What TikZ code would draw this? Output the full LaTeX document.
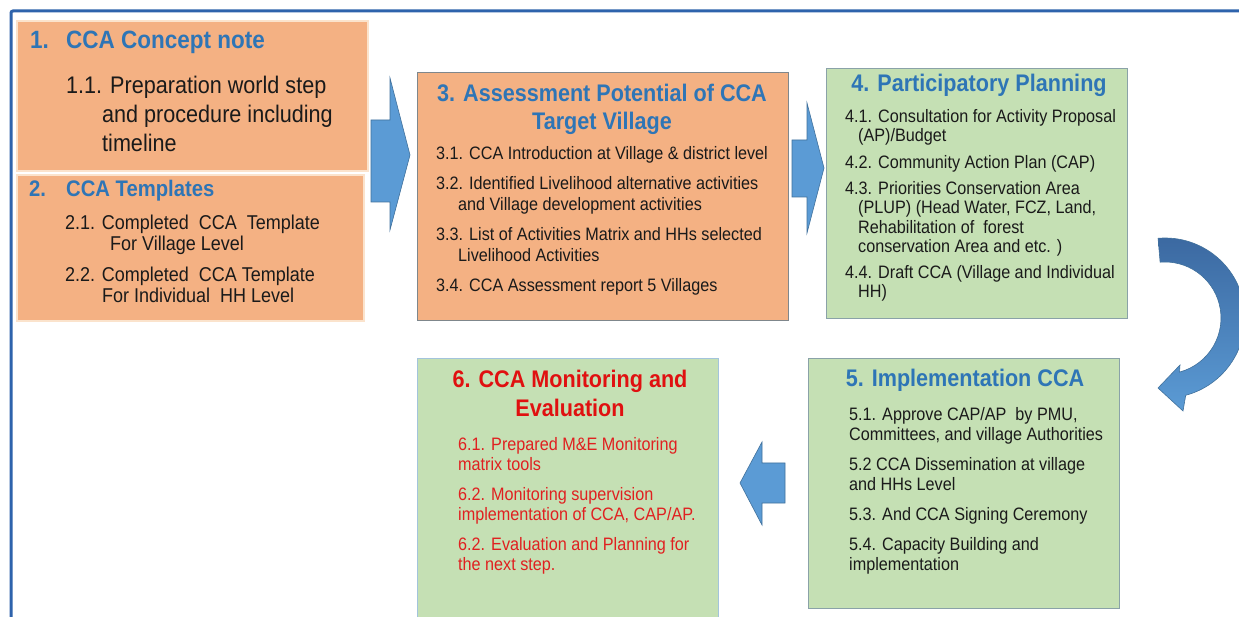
\documentclass[tikz,border=0pt]{standalone}
\usepackage{fontspec}
\setmainfont[FakeStretch=0.9]{Liberation Sans}
\usetikzlibrary{calc}
\definecolor{orfill}{HTML}{F4B183}
\definecolor{orbord}{HTML}{FBE3CC}
\definecolor{grfill}{HTML}{C5E0B4}
\definecolor{grbord}{HTML}{8AA2A8}
\definecolor{bxbord}{HTML}{7F878C}
\definecolor{ltbord}{HTML}{A3C4DC}
\definecolor{ttblue}{HTML}{2E75B6}
\definecolor{ttred}{HTML}{E01010}
\definecolor{txred}{HTML}{E02020}
\definecolor{arfill}{HTML}{5B9BD5}
\definecolor{arbord}{HTML}{41719C}
\definecolor{ardark}{HTML}{3B68A0}
\definecolor{frame}{HTML}{2E63AC}
\definecolor{txt}{HTML}{1A1A1A}
\tikzset{
  boxnode/.style={rectangle, inner sep=0pt, anchor=north west},
  obox/.style={boxnode, fill=orfill, draw=orbord, line width=2pt},
  obox3/.style={boxnode, fill=orfill, draw=bxbord, line width=0.9pt},
  gbox/.style={boxnode, fill=grfill, draw=grbord, line width=0.9pt},
  gbox6/.style={boxnode, fill=grfill, draw=ltbord, line width=0.9pt},
  blockarrow/.style={fill=arfill, draw=arbord, line width=0.6pt},
  ttl/.style={inner sep=0pt, anchor=base, font=\fontsize{24}{28}\selectfont\bfseries, text=ttblue, align=center},
  body/.style={inner sep=0pt, anchor=base west, align=left, text=txt},
}
\begin{document}
\begin{tikzpicture}[x=1pt,y=1pt]
\useasboundingbox (0,0) rectangle (1239,616);
\fill[white] (0,0) rectangle (1239,616);
% frame
\draw[frame, line width=3pt, rounded corners=2pt] (11,-10) -- (11,605) -- (1250,605);

% boxes
\node[obox, minimum width=351pt, minimum height=150pt] (b1) at (16,596) {};
\node[obox, minimum width=347pt, minimum height=146pt] (b2) at (16,442) {};
\node[obox3, minimum width=371pt, minimum height=248pt] (b3) at (417,544) {};
\node[gbox, minimum width=301pt, minimum height=250pt] (b4) at (826,548) {};
\node[gbox, minimum width=311pt, minimum height=250pt] (b5) at (808,258) {};
\node[gbox6, minimum width=301pt, minimum height=270pt] (b6) at (417,258) {};

% box 1
\node[inner sep=0pt, anchor=base west, font=\fontsize{25}{29}\selectfont\bfseries, text=ttblue] (t1n) at (30,567) {1.};
\node[inner sep=0pt, anchor=base west, font=\fontsize{25}{29}\selectfont\bfseries, text=ttblue] (t1) at (66,567) {CCA Concept note};
\node[body, font=\fontsize{24}{29}\selectfont] (x1) at (66,464) {1.1. Preparation world step\\\hspace*{36pt}and procedure including\\\hspace*{36pt}timeline};

% box 2
\node[inner sep=0pt, anchor=base west, font=\fontsize{22.5}{27}\selectfont\bfseries, text=ttblue] (t2n) at (29,419) {2.};
\node[inner sep=0pt, anchor=base west, font=\fontsize{22.5}{27}\selectfont\bfseries, text=ttblue] (t2) at (66,419) {CCA Templates};
\node[body, font=\fontsize{20}{21.5}\selectfont] (x2) at (65,313) {2.1. Completed\ \ CCA\ \ Template\\\hspace*{45pt}For Village Level\\[9pt]2.2. Completed\ \ CCA Template\\\hspace*{37pt}For Individual\ \ HH Level};

% box 3
\node[ttl] (t3) at (602,486) {3. Assessment Potential of CCA\\Target Village};
\node[body, font=\fontsize{18}{21}\selectfont] (x3) at (436,324) {3.1. CCA Introduction at Village\ \& district level\\[9pt]3.2. Identified Livelihood\ alternative activities\\\hspace*{22pt}and Village\ development activities\\[9pt]3.3. List of Activities Matrix and HHs selected\\\hspace*{22pt}Livelihood Activities\\[9pt]3.4. CCA Assessment report 5 Villages};

% box 4
\node[ttl] (t4) at (979,524) {4. Participatory Planning};
\node[body, font=\fontsize{18}{19.3}\selectfont] (x4) at (845,318) {4.1. Consultation\ for Activity Proposal\\\hspace*{13pt}(AP)/Budget\\[7pt]4.2. Community Action Plan\ (CAP)\\[7pt]4.3. Priorities\ Conservation Area\\\hspace*{13pt}(PLUP) (Head Water, FCZ, Land,\\\hspace*{13pt}Rehabilitation\ of\ \ forest\\\hspace*{13pt}conservation Area and etc. )\\[7pt]4.4. Draft CCA (Village\ and Individual\\\hspace*{13pt}HH)};

% box 5
\node[ttl] (t5) at (965,229) {5. Implementation CCA};
\node[body, font=\fontsize{18}{20}\selectfont] (x5) at (849,46) {5.1. Approve CAP/AP\ \ by PMU,\\Committees, and village Authorities\\[10pt]5.2 CCA Dissemination at village\\and HHs Level\\[10pt]5.3. And CCA Signing\ Ceremony\\[10pt]5.4. Capacity Building\ and\\implementation};

% box 6
\node[ttl, text=ttred, font=\fontsize{24}{29}\selectfont\bfseries] (t6) at (570,199) {6. CCA Monitoring and\\Evaluation};
\node[body, font=\fontsize{18}{20}\selectfont, text=txred] (x6) at (458,46) {6.1. Prepared M\&E Monitoring\\matrix tools\\[10pt]6.2. Monitoring supervision\\implementation of CCA, CAP/AP.\\[10pt]6.2. Evaluation and Planning\ for\\the next step.};

% block arrows
\draw[blockarrow] (371,496) -- (390,496) -- (390,538) -- (410,461) -- (390,386) -- (390,414) -- (371,414) -- cycle;
\draw[blockarrow] (792,476) -- (807,476) -- (807,513) -- (824,448) -- (807,383) -- (807,419) -- (792,419) -- cycle;
\draw[blockarrow] (785,153) -- (762,153) -- (762,174) -- (740,133) -- (762,91) -- (762,113) -- (785,113) -- cycle;

% curved arrow
\coordinate (cc) at (1165,298);
\shadedraw[top color=ardark, bottom color=arfill, draw=arbord, line width=0.6pt]
  ($(cc)+(95:80pt)$) arc[start angle=95, end angle=-75, radius=80pt]
  -- (1183,205) -- (1158,228) -- (1180,251)
  -- ($(cc)+(-75:56pt)$) arc[start angle=-75, end angle=95, radius=56pt] -- cycle;
\end{tikzpicture}
\end{document}
